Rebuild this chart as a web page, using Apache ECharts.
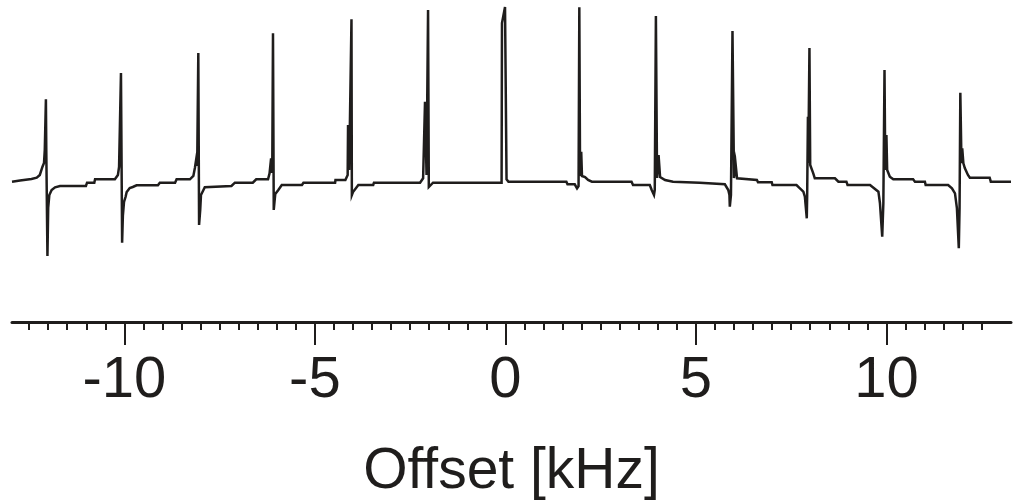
<!DOCTYPE html>
<html>
<head>
<meta charset="utf-8">
<title>Offset spectrum</title>
<script src="https://cdn.jsdelivr.net/npm/echarts@6.0.0/dist/echarts.min.js"></script>
<style>
  html, body { margin: 0; padding: 0; background: #fff; }
  #chart { width: 1013px; height: 502px; }
</style>
</head>
<body>
<div id="chart"></div>
<script>
// spectrum trace: offset in kHz, intensity in arbitrary units
const offsetKHz = [
  -12.95, -12.74, -12.44, -12.3, -12.22, -12.15, -12.11, -12.09, -12.06, -12.05, -12.02, -12.0, -11.97, -11.91, -11.82, -11.69, -11.01, -10.98, -10.79, -10.77,
  -10.25, -10.17, -10.14, -10.09, -10.06, -10.04, -10.01, -9.97, -9.94, -9.86, -9.78, -9.68, -9.12, -9.07, -8.67, -8.63,
  -8.28, -8.19, -8.15, -8.11, -8.09, -8.06, -8.04, -8.01, -7.99, -7.89, -7.84, -7.19, -7.1, -6.63, -6.54,
  -6.23, -6.19, -6.15, -6.12, -6.1, -6.08, -6.06, -6.04, -5.96, -5.87, -5.34, -5.3, -4.47, -4.46, -4.2,
  -4.14, -4.13, -4.1, -4.04, -4.03, -4.0, -3.95, -3.86, -3.47, -3.45, -2.24,
  -2.16, -2.11, -2.07, -2.03, -2.01, -1.96, -1.9, -0.1,
  -0.09, -0.01, 0.02, 0.03, 0.08, 1.6, 1.63, 1.82, 1.88, 1.92, 1.94, 1.96, 1.99, 2.01, 2.09, 2.17, 2.27, 3.31, 3.35, 3.79,
  3.84, 3.9, 3.92, 3.95, 3.98, 4.02, 4.06, 4.11, 4.19, 4.4, 4.42, 5.1, 5.13, 5.76,
  5.85, 5.88, 5.89, 5.92, 5.96, 6.0, 6.04, 6.08, 6.13, 6.6, 6.63, 6.99, 7.01, 7.64,
  7.73, 7.82, 7.86, 7.91, 7.92, 7.94, 7.95, 7.98, 8.0, 8.08, 8.12, 8.65, 8.74, 8.95, 8.98, 9.57,
  9.62, 9.79, 9.83, 9.89, 9.92, 9.95, 9.97, 10.0, 10.02, 10.09, 10.18, 10.7, 10.75, 11.01, 11.03, 11.62,
  11.72, 11.8, 11.85, 11.9, 11.92, 11.94, 11.97, 11.99, 12.02, 12.06, 12.14, 12.19, 12.71, 12.74, 13.27
];
const intensity = [
  0.3, 1.5, 3, 4.3, 7, 15.3, 19, 32, 82.7, 32, -74, -26, -13, -8, -5.3, -4, -4, -0.7, -0.7, 2.7,
  2.7, 7, 15, 109, -60.7, -34, -20, -15, -10, -6, -5, -3.3, -3.3, -0.7, -0.7, 2.7,
  2.7, 6, 14, 24, 16, 129, -43, -28, -13, -5.3, -4, -4, -0.7, -0.7, 2.7,
  2.7, 8.7, 23.7, 9, 148.7, -28, -19.7, -12, -8, -3, -3, -0.7, -0.7, 2, 2,
  7, 57, 12, 162.7, -13, -10, -8, -3, -3, -0.7, -0.7,
  3.7, 80.3, 7, 172, -5, -3, -0.7, -0.7,
  159, 175, 175, 2.7, 0.3, 0.3, -2.3, -2.3, -6.3, -4, 174.7, 6, 30.3, 6, 5, 2, 0.3, 0.3, -3, -3,
  -8, -13, -8, 166, 4, 27, 5, 5, 2, 0.3, -0.7, -0.7, -2.3, -2.3,
  -8, -13, -24.7, -13, 151, 4, 18.7, 3.7, 2, 2, -0.3, -0.3, -3, -3,
  -6.3, -9.7, -14.7, -36.3, -14, 65.3, 19, 134, 17, 8.7, 3.7, 3.7, 0.3, 0.3, -3, -3,
  -4.7, -9.7, -21, -54.7, -21, 112, 12, 47, 12, 5.3, 2.7, 2.7, 0.3, 0.3, -3, -3,
  -6.3, -11.3, -26, -66.3, -26, 89.3, 18.7, 33.7, 18.7, 13.7, 7, 4.3, 4.3, 0.3, 0.3
];

const majorTicks = [-10, -5, 0, 5, 10];
const minorTicks = [
  -12.5, -12, -11.5, -11, -10.5, -9.5, -9, -8.5, -8, -7.5, -7, -6.5, -6, -5.5,
  -4.5, -4, -3.5, -3, -2.5, -2, -1.5, -1, -0.5, 0.5, 1, 1.5, 2, 2.5, 3, 3.5, 4, 4.5,
  5.5, 6, 6.5, 7, 7.5, 8, 8.5, 9, 9.5, 10.5, 11, 11.5, 12, 12.5
];
const axisTitle = 'Offset [kHz]';

const ink = '#1f1d1c';
const font = '"Liberation Sans", Arial, sans-serif';

const chart = echarts.init(document.getElementById('chart'));
const trace = offsetKHz.map((x, i) => [x, intensity[i]]);

chart.setOption({
  animation: false,
  backgroundColor: '#ffffff',
  grid: {
    left: 12,
    right: 2,
    top: 0,
    bottom: 180,
    containLabel: false,
    outerBoundsMode: 'none'
  },
  xAxis: [
    {
      type: 'value',
      min: -12.95,
      max: 13.27,
      position: 'bottom',
      axisLine: { onZero: false, lineStyle: { color: ink, width: 3 } },
      axisTick: { customValues: majorTicks, length: 23, lineStyle: { color: ink, width: 2 } },
      axisLabel: {
        customValues: majorTicks,
        margin: 30,
        fontSize: 58,
        fontFamily: font,
        color: ink
      },
      splitLine: { show: false },
      name: axisTitle,
      nameLocation: 'middle',
      nameGap: 122,
      nameTextStyle: { fontSize: 57, fontFamily: font, color: ink }
    },
    {
      type: 'value',
      min: -12.95,
      max: 13.27,
      position: 'bottom',
      axisLine: { show: false, onZero: false },
      axisTick: { customValues: minorTicks, length: 8, lineStyle: { color: ink, width: 2 } },
      axisLabel: { show: false },
      splitLine: { show: false }
    }
  ],
  yAxis: {
    type: 'value',
    min: -140,
    max: 182,
    show: false
  },
  series: [{
    type: 'line',
    xAxisIndex: 0,
    data: trace,
    showSymbol: false,
    symbol: 'none',
    lineStyle: { color: ink, width: 2.5, join: 'miter' }
  }]
});
</script>
</body>
</html>
